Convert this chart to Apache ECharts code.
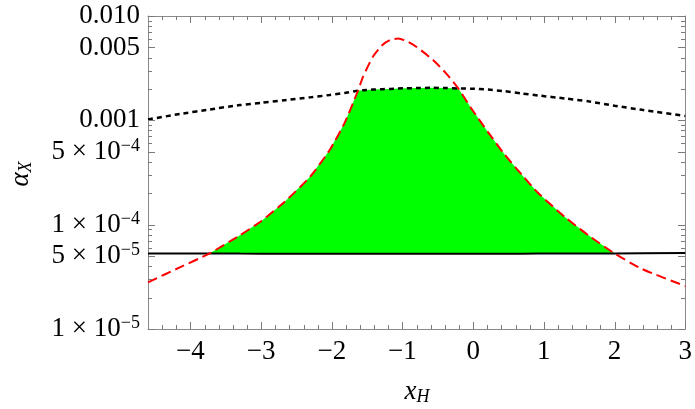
<!DOCTYPE html>
<html><head><meta charset="utf-8">
<script src="https://cdn.jsdelivr.net/npm/echarts@6/dist/echarts.min.js"></script>
<style>html,body{margin:0;padding:0;background:#fff}#c{width:695px;height:409px}</style>
</head><body><div id="c"></div>
<script>
// shared x grid (x_H)
const xs =     [-4.6, -4.15, -3.73, -3.3, -3.0, -2.67, -2.31, -2.03, -1.82, -1.63, -1.56, -1.42, -1.28, -1.17, -1.06, -0.94, -0.8, -0.57, -0.38, -0.21, -0.03, 0.21, 0.45, 0.69, 0.92, 1.3, 1.63, 2.0, 2.39, 3.0];
// red dashed curve
const redVals = [2.8e-5, 3.9e-5, 5.3e-5, 7.9e-5, 1.08e-4, 1.65e-4, 2.86e-4, 5.2e-4, 9.4e-4, 1.92e-3, 2.6e-3, 4.05e-3, 5.3e-3, 5.9e-3, 6.1e-3, 5.75e-3, 5.05e-3, 3.8e-3, 2.8e-3, 2.02e-3, 1.31e-3, 7.7e-4, 4.65e-4, 3.0e-4, 2.01e-4, 1.18e-4, 7.9e-5, 5.3e-5, 3.76e-5, 2.58e-5];
// black dotted curve
const dotVals = [1.02e-3, 1.15e-3, 1.27e-3, 1.40e-3, 1.47e-3, 1.56e-3, 1.66e-3, 1.75e-3, 1.83e-3, 1.92e-3, 1.94e-3, 1.97e-3, 1.99e-3, 2.0e-3, 2.02e-3, 2.03e-3, 2.04e-3, 2.05e-3, 2.04e-3, 2.02e-3, 2.01e-3, 1.97e-3, 1.9e-3, 1.81e-3, 1.73e-3, 1.62e-3, 1.52e-3, 1.38e-3, 1.26e-3, 1.1e-3];
// black solid line
const solidVals = [5.3e-5, 5.3e-5, 5.3e-5, 5.28e-5, 5.27e-5, 5.26e-5, 5.25e-5, 5.25e-5, 5.25e-5, 5.25e-5, 5.25e-5, 5.25e-5, 5.25e-5, 5.25e-5, 5.25e-5, 5.25e-5, 5.25e-5, 5.25e-5, 5.25e-5, 5.25e-5, 5.25e-5, 5.25e-5, 5.26e-5, 5.27e-5, 5.28e-5, 5.29e-5, 5.3e-5, 5.3e-5, 5.32e-5, 5.35e-5];

const xTickValues = [-4, -3, -2, -1, 0, 1, 2, 3];
const xTickLabels = ['\u22124', '\u22123', '\u22122', '\u22121', '0', '1', '2', '3'];
const yTickValues = [1e-5, 5e-5, 1e-4, 5e-4, 1e-3, 5e-3, 1e-2];
const yTickLabels = ['1 \u00d7 10^\u22125', '5 \u00d7 10^\u22125', '1 \u00d7 10^\u22124', '5 \u00d7 10^\u22124', '0.001', '0.005', '0.010'];
const yMinorMult = [2, 3, 4, 6, 7, 8, 9];
const yDecades = [1e-5, 1e-4, 1e-3];

const X_MIN = -4.6, X_MAX = 3, Y_MIN = 1e-5, Y_MAX = 1e-2;
const xMinor = [];
for (let k = -23; k <= 15; k++) { const v = +(k * 0.2).toFixed(1); if (Math.abs(v - Math.round(v)) > 1e-6 && v > X_MIN && v < X_MAX) xMinor.push(v); }
const yMinor = [];
yDecades.forEach(d => yMinorMult.forEach(m => yMinor.push(+(d * m).toPrecision(3))));

const FONT = '"Liberation Serif","DejaVu Serif",serif';
const GRAY = '#8a8a8a';
const TICK = '#7a7a7a';
const MAJOR = 7, MINOR = 4;

function yLabel(v) {
  let i = yTickValues.findIndex(t => Math.abs(t - v) / t < 1e-6);
  if (i < 0) return '';
  const s = yTickLabels[i];
  if (s.indexOf('^') >= 0) { const p = s.split('^'); return '{n|' + p[0] + '}{s|' + p[1] + '}'; }
  return '{n|' + s + '}';
}
function xLabel(v) {
  let i = xTickValues.findIndex(t => Math.abs(t - v) < 1e-6);
  return i < 0 ? '' : xTickLabels[i];
}

function xAxisDef(pos, labels) {
  return {
    type: 'value', min: X_MIN, max: X_MAX, position: pos,
    axisLine: { show: true, onZero: false, lineStyle: { color: GRAY, width: 1 } },
    axisTick: { show: false },
    axisLabel: labels ? { show: true, customValues: xTickValues, formatter: xLabel, color: '#000', fontFamily: FONT, fontSize: 27, margin: 9 } : { show: false },
    splitLine: { show: false }
  };
}
function yAxisDef(pos, labels) {
  return {
    type: 'log', logBase: 10, min: Y_MIN, max: Y_MAX, position: pos,
    axisLine: { show: true, onZero: false, lineStyle: { color: GRAY, width: 1 } },
    axisTick: { show: false },
    axisLabel: labels ? {
      show: true, customValues: yTickValues, formatter: yLabel, margin: 8,
      rich: {
        n: { fontFamily: FONT, fontSize: 27, color: '#000' },
        s: { fontFamily: FONT, fontSize: 18, color: '#000', padding: [0, 0, 11, 0] }
      }
    } : { show: false },
    splitLine: { show: false }
  };
}

const titleGraphics = [
  {
    type: 'text', x: 21, y: 174, rotation: Math.PI / 2,
    style: {
      text: '{a|\u03b1}{b|X}', align: 'center', verticalAlign: 'middle',
      rich: {
        a: { fontFamily: FONT, fontStyle: 'italic', fontSize: 27, fill: '#000' },
        b: { fontFamily: FONT, fontStyle: 'italic', fontSize: 18, fill: '#000', padding: [10, 0, 0, 0] }
      }
    }
  },
  {
    type: 'text', x: 417, y: 392,
    style: {
      text: '{a|x}{b|H}', align: 'center', verticalAlign: 'middle',
      rich: {
        a: { fontFamily: FONT, fontStyle: 'italic', fontSize: 27, fill: '#000' },
        b: { fontFamily: FONT, fontStyle: 'italic', fontSize: 18, fill: '#000', padding: [10, 0, 0, 0] }
      }
    }
  }
];

const chart = echarts.init(document.getElementById('c'), null, { renderer: 'canvas' });
chart.setOption({
  animation: false,
  backgroundColor: '#fff',
  grid: { left: 148, right: 9, top: 16, bottom: 80, containLabel: false },
  xAxis: [xAxisDef('bottom', true), xAxisDef('top', false)],
  yAxis: [yAxisDef('left', true), yAxisDef('right', false)],
  series: [
    {
      type: 'custom', xAxisIndex: 0, yAxisIndex: 0, z: 1, silent: true,
      data: [[xs[0], solidVals[0]]],
      renderItem: function (params, api) {
        const top = [], bot = [];
        for (let i = 0; i < xs.length; i++) {
          if (redVals[i] >= solidVals[i] * 0.999) {
            top.push(api.coord([xs[i], Math.min(redVals[i], dotVals[i])]));
            bot.push(api.coord([xs[i], solidVals[i]]));
          }
        }
        return { type: 'polygon', shape: { points: top.concat(bot.reverse()) }, style: { fill: '#00ff00', stroke: null } };
      }
    },
    {
      type: 'line', xAxisIndex: 0, yAxisIndex: 0, z: 3, showSymbol: false, symbol: 'none',
      data: xs.map((x, i) => [x, solidVals[i]]),
      lineStyle: { color: '#000', width: 2 }
    },
    {
      type: 'line', xAxisIndex: 0, yAxisIndex: 0, z: 3, showSymbol: false, symbol: 'none', smooth: 0.2,
      data: xs.map((x, i) => [x, dotVals[i]]),
      lineStyle: { color: '#000', width: 2.5, type: [5, 4] }
    },
    {
      type: 'line', xAxisIndex: 0, yAxisIndex: 0, z: 4, showSymbol: false, symbol: 'none', smooth: 0.2,
      data: xs.map((x, i) => [x, redVals[i]]),
      lineStyle: { color: '#ff0000', width: 2, type: [10, 5] }
    }
  ],
  graphic: titleGraphics
});

// tick marks, positioned through the chart's own scales
const px = (x, y) => chart.convertToPixel({ gridIndex: 0 }, [x, y]);
const tickEls = [];
function addTick(p, dx, dy) {
  const x = Math.round(p[0]) + (dx === 0 ? 0.5 : 0);
  const y = Math.round(p[1]) + (dy === 0 ? 0.5 : 0);
  tickEls.push({ type: 'line', z: 100, silent: true, shape: { x1: x, y1: y, x2: x + dx, y2: y + dy }, style: { stroke: TICK, lineWidth: 1 } });
}
xTickValues.forEach(v => { addTick(px(v, Y_MIN), 0, -MAJOR); addTick(px(v, Y_MAX), 0, MAJOR); });
xMinor.forEach(v => { addTick(px(v, Y_MIN), 0, -MINOR); addTick(px(v, Y_MAX), 0, MINOR); });
yTickValues.forEach(v => { addTick(px(X_MIN, v), MAJOR, 0); addTick(px(X_MAX, v), -MAJOR, 0); });
yMinor.filter(v => !yTickValues.some(t => Math.abs(t - v) / t < 1e-6)).forEach(v => { addTick(px(X_MIN, v), MINOR, 0); addTick(px(X_MAX, v), -MINOR, 0); });
chart.setOption({ graphic: titleGraphics.concat(tickEls) });
</script>
</body></html>
